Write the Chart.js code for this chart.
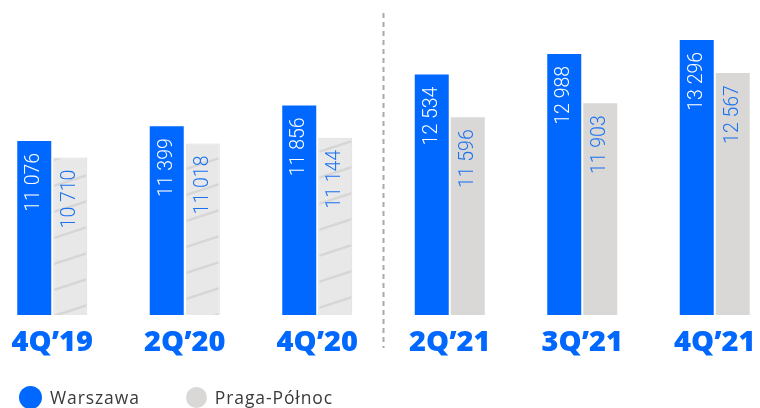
<!DOCTYPE html>
<html>
<head>
<meta charset="utf-8">
<script src="https://cdn.jsdelivr.net/npm/chart.js@4/dist/chart.umd.min.js"></script>
<style>
  html, body { margin: 0; padding: 0; background: #fff; width: 760px; height: 408px; overflow: hidden; }
  #wrap { position: relative; width: 760px; height: 408px; }
  #chart { position: absolute; left: -14px; top: 0; }
  .legend { position: absolute; top: 385px; left: 19px; display: flex; align-items: center;
            font-family: "Open Sans", sans-serif; font-size: 17.5px; color: #3a3a3a; letter-spacing: 0.9px; }
  .legend .item { display: flex; align-items: center; margin-right: 46px; }
  .legend .dot { width: 23px; height: 23px; border-radius: 50%; margin-right: 8px; }
</style>
</head>
<body>
<div id="wrap">
  <canvas id="chart" width="795" height="408"></canvas>
  <div class="legend">
    <div class="item"><span class="dot" style="background:#0068ff"></span>Warszawa</div>
    <div class="item"><span class="dot" style="background:#d9d8d7;width:21px;height:21px"></span>Praga-Północ</div>
  </div>
</div>
<script>
// Quarters and average prices per m² (PLN)
const quarters = ['4Q’19', '2Q’20', '4Q’20', '2Q’21', '3Q’21', '4Q’21'];
const warszawa = [11076, 11399, 11856, 12534, 12988, 13296];
const pragaPolnoc = [10710, 11018, 11144, 11596, 11903, 12567];
// earlier quarters of Praga-Północ are shown with a striped fill
const striped = [true, true, true, false, false, false];

const BLUE = '#0068ff';
const GREY = '#d9d8d7';

function stripePattern() {
  const w = 80, h = 26;
  const c = document.createElement('canvas');
  c.width = w; c.height = h;
  const g = c.getContext('2d');
  g.fillStyle = '#e8e8e8';
  g.fillRect(0, 0, w, h);
  g.strokeStyle = '#d6d6d6';
  g.lineWidth = 2.5;
  for (let dx = -1; dx <= 1; dx++) {
    for (let dy = -1; dy <= 1; dy++) {
      g.beginPath();
      g.moveTo(dx * w, h + dy * h);
      g.lineTo(w + dx * w, dy * h);
      g.stroke();
    }
  }
  return g.createPattern(c, 'repeat');
}
const pattern = stripePattern();

const fmt = v => String(v).replace(/\B(?=(\d{3})+(?!\d))/g, ' ');

const valueLabels = {
  id: 'valueLabels',
  afterDatasetsDraw(chart) {
    const ctx = chart.ctx;
    const xs = chart.scales.x;
    // dashed divider between 2020 and 2021
    const xd = (xs.getPixelForValue(2) + xs.getPixelForValue(3)) / 2;
    ctx.save();
    ctx.strokeStyle = '#a9a9a9';
    ctx.lineWidth = 2;
    ctx.setLineDash([5, 4]);
    ctx.beginPath();
    ctx.moveTo(xd, 13);
    ctx.lineTo(xd, 348);
    ctx.stroke();
    ctx.restore();

    chart.data.datasets.forEach((ds, di) => {
      const meta = chart.getDatasetMeta(di);
      meta.data.forEach((bar, i) => {
        ctx.save();
        ctx.translate(bar.x, bar.y + 12);
        ctx.rotate(-Math.PI / 2);
        ctx.font = '300 19.5px Roboto, sans-serif';
        ctx.textAlign = 'right';
        ctx.textBaseline = 'middle';
        ctx.fillStyle = di === 0 ? '#ffffff' : '#1a72f0';
        ctx.fillText(fmt(ds.data[i]), 0, 0);
        ctx.restore();
      });
    });
  }
};

new Chart(document.getElementById('chart'), {
  type: 'bar',
  data: {
    labels: quarters,
    datasets: [
      {
        label: 'Warszawa',
        data: warszawa,
        backgroundColor: BLUE
      },
      {
        label: 'Praga-Północ',
        data: pragaPolnoc,
        backgroundColor: striped.map(s => s ? pattern : GREY),
        borderColor: '#dcdcdc',
        borderWidth: striped.map(s => s ? 1 : 0)
      }
    ]
  },
  options: {
    responsive: false,
    animation: false,
    devicePixelRatio: 1,
    categoryPercentage: 0.5434,
    barPercentage: 0.9444,
    layout: { padding: 0 },
    plugins: { legend: { display: false }, tooltip: { enabled: false } },
    scales: {
      x: {
        grid: { display: false, drawTicks: false },
        border: { display: false },
        ticks: {
          color: BLUE,
          font: { family: 'Open Sans', weight: '800', size: 29 },
          padding: 10
        },
        afterFit(scale) { scale.height = 93; }
      },
      y: {
        display: false,
        min: 7250,
        max: 14173
      }
    }
  },
  plugins: [valueLabels]
});
</script>
</body>
</html>
